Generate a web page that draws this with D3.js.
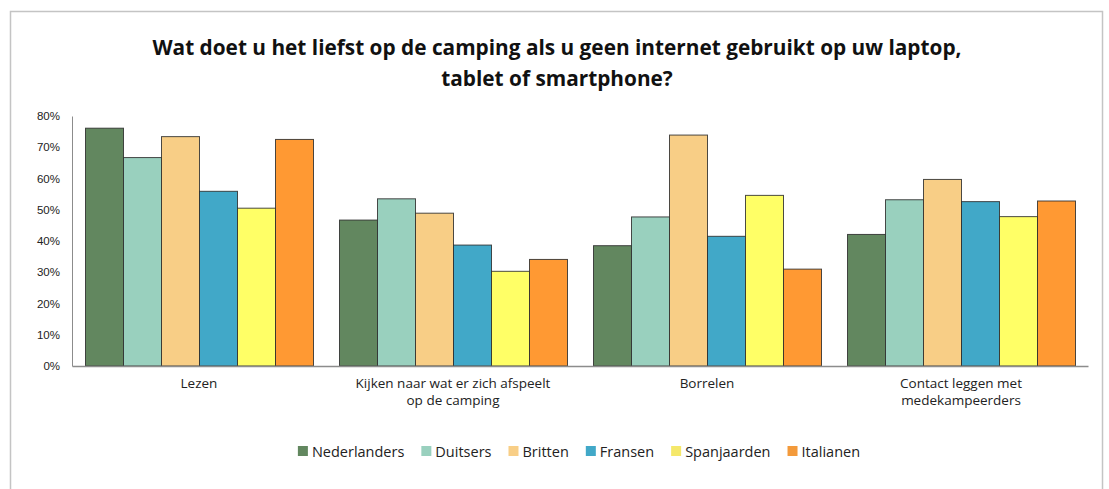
<!DOCTYPE html>
<html>
<head>
<meta charset="utf-8">
<script src="https://cdn.jsdelivr.net/npm/d3@7"></script>
<style>
  body { margin: 0; background: #fff; }
  svg { display: block; }
</style>
</head>
<body>
<div id="chart"></div>
<script>
(function (d3) {
    "use strict";

    var categories = [
        ["Lezen"],
        ["Kijken naar wat er zich afspeelt", "op de camping"],
        ["Borrelen"],
        ["Contact leggen met", "medekampeerders"]
    ];
    var seriesNames = ["Nederlanders", "Duitsers", "Britten", "Fransen", "Spanjaarden", "Italianen"];
    var seriesColors = ["#62875f", "#99d0be", "#f8ce86", "#41a8c8", "#ffff66", "#ff9933"];
    var legendColors = ["#62875f", "#99d0be", "#f8ce86", "#41a8c8", "#f5e86a", "#f39a3b"];

    // percentages per series, in category order
    var nederlanders = [76.1, 46.7, 38.5, 42.1];
    var duitsers = [66.7, 53.5, 47.7, 53.2];
    var britten = [73.4, 48.9, 73.9, 59.7];
    var fransen = [55.9, 38.7, 41.5, 52.6];
    var spanjaarden = [50.5, 30.3, 54.6, 47.8];
    var italianen = [72.5, 34.1, 31.0, 52.8];
    var seriesValues = [nederlanders, duitsers, britten, fransen, spanjaarden, italianen];

    var yTicks = [0, 10, 20, 30, 40, 50, 60, 70, 80];
    var titleLines = [
        "Wat doet u het liefst op de camping als u geen internet gebruikt op uw laptop,",
        "tablet of smartphone?"
    ];

    var W = 1109, H = 489;
    var plot = {left: 72, right: 1088, top: 116, bottom: 366};
    var font = "'Open Sans', 'Noto Sans', sans-serif";

    var svg = d3.select("#chart").append("svg")
        .attr("width", W)
        .attr("height", H);

    // outer frame
    svg.append("rect")
        .attr("x", 10.5).attr("y", 11.5)
        .attr("width", 1092).attr("height", 500)
        .attr("fill", "#fff")
        .attr("stroke", "#c4c4c4")
        .attr("stroke-width", 1.5);

    // title
    svg.append("text")
        .attr("x", 557)
        .attr("text-anchor", "middle")
        .attr("font-family", font)
        .attr("font-weight", "bold")
        .attr("font-size", 20.8)
        .attr("fill", "#111")
        .selectAll("tspan")
        .data(titleLines)
        .join("tspan")
        .attr("x", 557)
        .attr("y", function (d, i) { return 55 + i * 31; })
        .text(function (d) { return d; });

    var x0 = d3.scaleBand()
        .domain(d3.range(categories.length))
        .range([plot.left, plot.right])
        .padding(0);

    // bars fill 228px of each 254px group, like the original
    var x1 = d3.scaleBand()
        .domain(d3.range(seriesNames.length))
        .range([13.5, x0.bandwidth() - 12.5])
        .padding(0);

    var y = d3.scaleLinear()
        .domain([0, 80])
        .range([plot.bottom, plot.top]);

    // y axis labels
    var yAxis = d3.axisLeft(y)
        .tickValues(yTicks)
        .tickSize(0)
        .tickPadding(12)
        .tickFormat(function (d) { return d + "%"; });

    var gy = svg.append("g")
        .attr("transform", "translate(" + plot.left + ",0)")
        .call(yAxis);
    gy.select(".domain").attr("stroke", "#8c8c8c").attr("stroke-width", 1);
    gy.selectAll("text")
        .attr("font-family", "'Liberation Sans', Arial, sans-serif")
        .attr("font-size", 11.5)
        .attr("fill", "#222");

    // bars
    var groups = svg.append("g").selectAll("g")
        .data(categories)
        .join("g")
        .attr("transform", function (d, i) { return "translate(" + x0(i) + ",0)"; });

    groups.selectAll("rect")
        .data(function (d, ci) {
            return seriesValues.map(function (vals, si) { return {s: si, v: vals[ci]}; });
        })
        .join("rect")
        .attr("x", function (d) { return x1(d.s); })
        .attr("width", x1.bandwidth())
        .attr("y", function (d) { return y(d.v); })
        .attr("height", function (d) { return y(0) - y(d.v); })
        .attr("fill", function (d) { return seriesColors[d.s]; })
        .attr("stroke", "#2b2b2b")
        .attr("stroke-opacity", 0.85)
        .attr("stroke-width", 1);

    // x axis line
    var xAxis = d3.axisBottom(x0).tickSize(0).tickFormat("");
    var gx = svg.append("g")
        .attr("transform", "translate(0," + plot.bottom + ")")
        .call(xAxis);
    gx.select(".domain").attr("stroke", "#8c8c8c").attr("stroke-width", 1.5);

    // category labels, one text per line
    var labelRows = [];
    categories.forEach(function (lines, i) {
        lines.forEach(function (line, k) { labelRows.push({c: i, k: k, t: line}); });
    });
    svg.append("g").selectAll("text")
        .data(labelRows)
        .join("text")
        .attr("text-anchor", "middle")
        .attr("font-family", font)
        .attr("font-size", 13.5)
        .attr("fill", "#222")
        .attr("x", function (d) { return x0(d.c) + x0.bandwidth() / 2; })
        .attr("y", function (d) { return 388 + d.k * 17; })
        .text(function (d) { return d.t; });

    // legend
    var legend = svg.append("g");
    var items = legend.selectAll("g")
        .data(seriesNames)
        .join("g");
    items.append("rect")
        .attr("width", 10).attr("height", 10)
        .attr("y", 446)
        .attr("fill", function (d, i) { return legendColors[i]; });
    items.append("text")
        .attr("x", 14)
        .attr("y", 456.5)
        .attr("font-family", font)
        .attr("font-size", 14.5)
        .attr("fill", "#222")
        .text(function (d) { return d; });

    var xpos = 0;
    items.each(function () {
        var w = d3.select(this).select("text").node().getComputedTextLength();
        d3.select(this).attr("transform", "translate(" + xpos + ",0)");
        xpos += 14 + w + 17;
    });
    var total = xpos - 17;
    legend.attr("transform", "translate(" + (579 - total / 2) + ",0)");

}(window.d3));
</script>
</body>
</html>
